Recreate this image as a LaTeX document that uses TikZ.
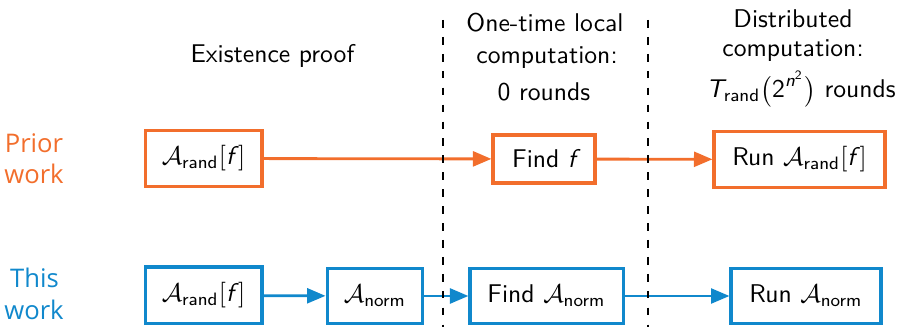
\documentclass[tikz,border=0pt]{standalone}
\usepackage{amsmath}
\usepackage{fontspec}
\newfontfamily\rowfont{Open Sans}
\usetikzlibrary{arrows.meta}

% sans-serif pieces inside math
\newcommand{\sfi}[1]{\text{\sffamily\itshape #1}}
\newcommand{\sfu}[1]{\text{\sffamily\upshape #1}}
\newcommand{\Arand}{\mathcal{A}_{\sfu{rand}}}
\newcommand{\Anorm}{\mathcal{A}_{\sfu{norm}}}

\definecolor{prior}{RGB}{242,110,44}
\definecolor{ours}{RGB}{16,136,204}

\tikzset{
  stagebox/.style={draw=#1, line width=1.2pt, fill=white, text=black, inner sep=0pt, align=center},
  flow/.style={draw=#1, fill=#1, line width=1.1pt, -{Triangle[length=7.2pt,width=5.8pt]}},
  divider/.style={line width=0.5pt, dash pattern=on 3pt off 3.6pt},
  header/.style={anchor=base, inner sep=0pt},
  rowlabel/.style={anchor=base, inner sep=0pt, font=\rowfont, text=#1},
}

\begin{document}
\begin{tikzpicture}[x=0.39pt, y=-0.39pt, font=\sffamily]
\useasboundingbox (0,0) rectangle (900,327);

% column headers
\node[header] (h1) at (272.5,63) {Existence proof};
\node[header] (h2a) at (545,32) {One-time local};
\node[header] (h2b) at (547,64) {computation:};
\node[header] (h2c) at (544,101) {0 rounds};
\node[header] (h3a) at (793,28) {Distributed};
\node[header] (h3b) at (793,57) {computation:};
\node[header] (h3c) at (801,98) {$\sfi{T}_{\sfu{rand}}\smash[t]{\bigl(\sfu{2}^{\sfi{n}^{\sfu{2}}}\bigr)}$ rounds};

% row labels
\node[rowlabel=prior] (p1) at (34,153) {Prior};
\node[rowlabel=prior] (p2) at (34,184) {work};
\node[rowlabel=ours] (t1) at (34.5,288) {This};
\node[rowlabel=ours] (t2) at (34,320) {work};

% prior work row
\node[stagebox=prior, minimum width=45.6pt, minimum height=21.5pt] (a1) at (203.5,158.5) {$\Arand[\sfi{f}\,]$};
\node[stagebox=prior, minimum width=39.8pt, minimum height=18.7pt] (f1) at (544,159) {Find $\sfi{f}$};
\node[stagebox=prior, minimum width=66.7pt, minimum height=21.5pt] (r1) at (799.5,159.5) {Run $\Arand[\sfi{f}\,]$};

% this work row
\node[stagebox=ours, minimum width=45.6pt, minimum height=22.2pt] (a2) at (203.5,295.5) {$\Arand[\sfi{f}\,]$};
\node[stagebox=ours, minimum width=37.4pt, minimum height=21.1pt] (n2) at (375,296) {$\Anorm$};
\node[stagebox=ours, minimum width=59.7pt, minimum height=21.1pt] (fn2) at (546.5,296) {Find $\Anorm$};
\node[stagebox=ours, minimum width=58.5pt, minimum height=21.1pt] (rn2) at (806,296) {Run $\Anorm$};

% connectors
\draw[flow=prior] (a1) -- (f1);
\draw[flow=prior] (f1) -- (r1);
\draw[flow=ours] (a2) -- (n2);
\draw[flow=ours] (n2) -- (fn2);
\draw[flow=ours] (fn2) -- (rn2);

% phase dividers
\coordinate (d1t) at (443,20);
\coordinate (d1b) at (443,327);
\coordinate (d2t) at (648,20);
\coordinate (d2b) at (648,327);
\draw[divider] (d1t) -- (d1b);
\draw[divider] (d2t) -- (d2b);
\end{tikzpicture}
\end{document}
